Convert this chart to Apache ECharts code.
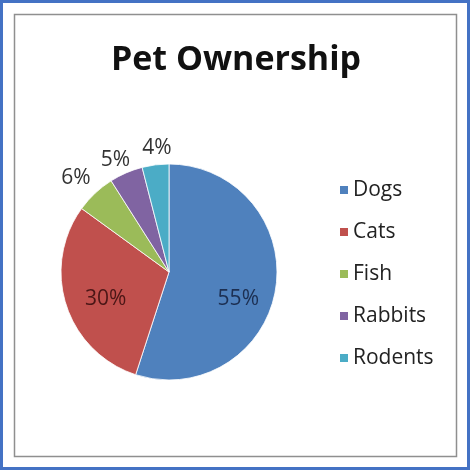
<!DOCTYPE html>
<html><head><meta charset="utf-8">
<script src="https://cdn.jsdelivr.net/npm/echarts@6/dist/echarts.min.js"></script>
<style>html,body{margin:0;padding:0;background:#fff}#c{width:472px;height:471px}</style>
</head><body><div id="c"></div>
<script>
const categories = ['Dogs', 'Cats', 'Fish', 'Rabbits', 'Rodents'];
const values = [55, 30, 6, 5, 4];
const colors = ['#4F81BD', '#C0504D', '#9BBB59', '#8064A2', '#4BACC6'];
const titleText = 'Pet Ownership';

const labelCfg = [
  {offset: [13, 18], color: '#1c2f52'},
  {offset: [-9, 9], color: '#4a1616'},
  {offset: [-54, -52], color: '#333'},
  {offset: [-31, -60], color: '#333'},
  {offset: [-5, -67], color: '#333'}
];

const chart = echarts.init(document.getElementById('c'), null, {renderer: 'canvas'});
const FONT = '"Open Sans", sans-serif';
chart.setOption({
  backgroundColor: '#fff',
  animation: false,
  title: {
    text: titleText, left: 'center', top: 38,
    textStyle: {fontFamily: FONT, fontSize: 34, fontWeight: 'bold', color: '#111'}
  },
  legend: {
    orient: 'vertical', left: 333, top: 174,
    itemWidth: 10, itemHeight: 10, itemGap: 20,
    icon: 'rect',
    data: categories,
    textStyle: {fontFamily: FONT, fontSize: 21, color: '#222', lineHeight: 22, padding: [0,0,0,-1]}
  },
  graphic: [
    {type: 'rect', shape: {x: 1.5, y: 1.5, width: 467, height: 467}, style: {fill: 'none', stroke: '#4472C4', lineWidth: 3}},
    {type: 'rect', shape: {x: 14.5, y: 14.5, width: 442, height: 442}, style: {fill: 'none', stroke: '#8f8f8f', lineWidth: 1.5}}
  ],
  series: [{
    type: 'pie',
    center: [169, 272], radius: 108,
    startAngle: 90, clockwise: true,
    avoidLabelOverlap: false,
    itemStyle: {borderColor: '#fff', borderWidth: 0.8},
    labelLine: {show: false},
    label: {formatter: '{d}%', fontFamily: FONT, fontSize: 21, position: 'inside'},
    data: categories.map((n, i) => ({
      name: n, value: values[i],
      itemStyle: {color: colors[i]},
      label: {offset: labelCfg[i].offset, color: labelCfg[i].color}
    }))
  }]
});
</script></body></html>
